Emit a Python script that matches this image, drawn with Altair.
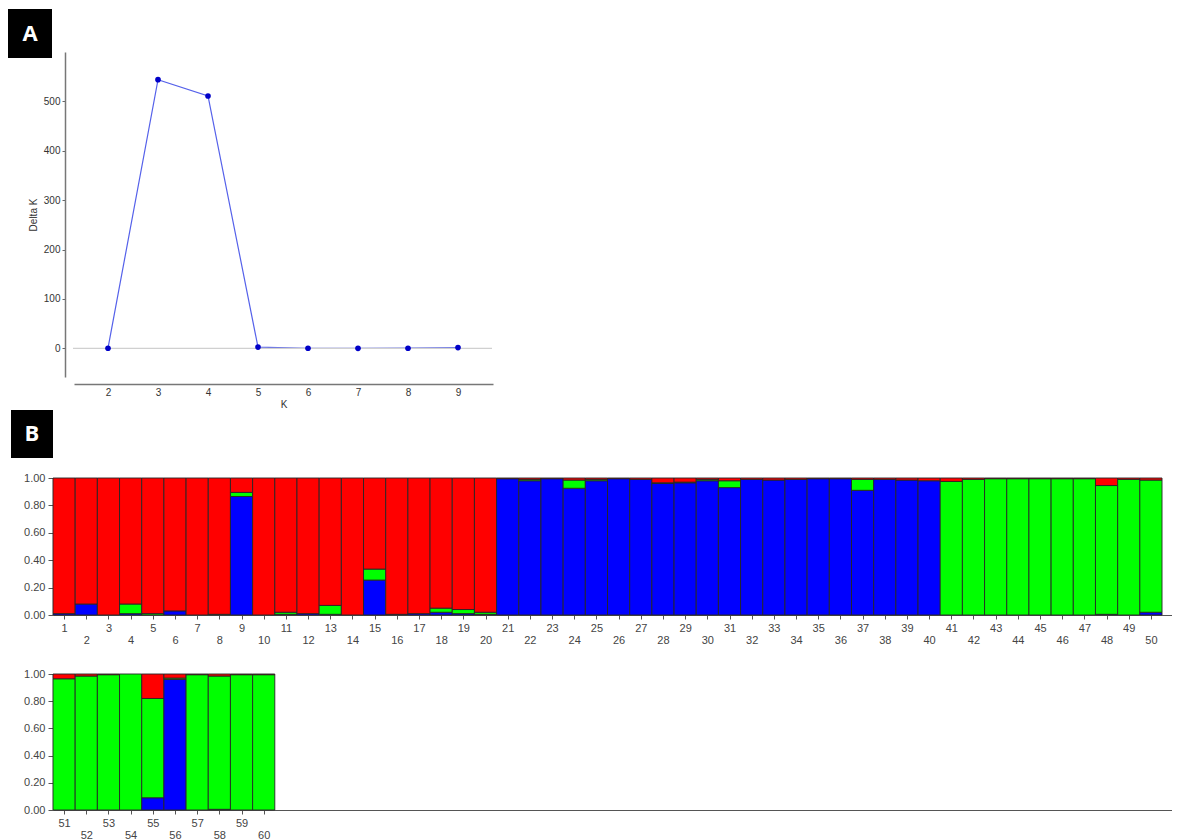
import altair as alt
import pandas as pd

# ---------------- Panel A data ----------------
k_values = [2, 3, 4, 5, 6, 7, 8, 9]
delta_k = [0.3, 544, 511, 2.5, 0.2, 0.1, 0.3, 1.5]

# ---------------- Panel B data ----------------
individuals = list(range(1, 61))
blue = [0.01, 0.08, 0.00, 0.01, 0.00, 0.03, 0.00, 0.00, 0.865, 0.00,
        0.005, 0.01, 0.005, 0.00, 0.255, 0.005, 0.01, 0.02, 0.01, 0.005,
        0.995, 0.98, 0.995, 0.925, 0.98, 0.995, 0.99, 0.96, 0.965, 0.98,
        0.93, 0.99, 0.985, 0.99, 0.995, 0.995, 0.91, 0.99, 0.985, 0.98,
        0.00, 0.00, 0.00, 0.00, 0.00, 0.00, 0.00, 0.005, 0.00, 0.02,
        0.00, 0.00, 0.00, 0.00, 0.09, 0.96, 0.00, 0.005, 0.00, 0.00]
green = [0.00, 0.00, 0.00, 0.07, 0.01, 0.00, 0.00, 0.005, 0.03, 0.00,
         0.015, 0.00, 0.065, 0.00, 0.08, 0.00, 0.00, 0.03, 0.03, 0.015,
         0.00, 0.01, 0.00, 0.06, 0.01, 0.00, 0.00, 0.005, 0.005, 0.01,
         0.05, 0.00, 0.00, 0.00, 0.00, 0.00, 0.08, 0.00, 0.00, 0.00,
         0.975, 0.99, 0.995, 0.995, 0.995, 0.995, 0.995, 0.94, 0.99, 0.965,
         0.965, 0.985, 0.995, 1.00, 0.73, 0.01, 0.995, 0.98, 0.995, 0.995]
red = [0.99, 0.92, 1.00, 0.92, 0.99, 0.97, 1.00, 0.995, 0.105, 1.00,
       0.98, 0.99, 0.93, 1.00, 0.665, 0.995, 0.99, 0.95, 0.96, 0.98,
       0.005, 0.01, 0.005, 0.015, 0.01, 0.005, 0.01, 0.035, 0.03, 0.01,
       0.02, 0.01, 0.015, 0.01, 0.005, 0.005, 0.01, 0.01, 0.015, 0.02,
       0.025, 0.01, 0.005, 0.005, 0.005, 0.005, 0.005, 0.055, 0.01, 0.015,
       0.035, 0.015, 0.005, 0.00, 0.18, 0.03, 0.005, 0.015, 0.005, 0.005]
clusters = ["blue", "green", "red"]
cluster_colors = ["#0000ff", "#00ff00", "#ff0000"]
y_ticks_b = [0, 0.2, 0.4, 0.6, 0.8, 1.0]
delta_ticks = [0, 100, 200, 300, 400, 500]

FONT = "Liberation Sans"

dfA = pd.DataFrame({"K": k_values, "DeltaK": delta_k})

rows = []
for i, b, g, r in zip(individuals, blue, green, red):
    for order, (c, v) in enumerate(zip(clusters, [b, g, r])):
        if v > 0:
            rows.append({"ind": i, "cluster": c, "q": v, "ord": order})
dfB = pd.DataFrame(rows)

one = alt.Data(values=[{"a": 1}])

# ---------------- Panel A ----------------
WA, HA = 440, 325
xA = alt.Scale(domain=[1.32, 9.7], range=[21, 440], nice=False, zero=False)
yA = alt.Scale(domain=[-58, 600], nice=False, zero=False)

x_axis_A = alt.Axis(values=k_values, title="K", offset=7, ticks=False,
                    labelPadding=3, labelFontSize=10, labelColor="#333",
                    labelFont=FONT, titleFont=FONT, titleFontSize=10,
                    titleFontWeight="normal", titleColor="#333",
                    titlePadding=2, domainColor="#777", domainWidth=1.5,
                    grid=False)
y_axis_A = alt.Axis(values=delta_ticks, title="Delta K", offset=-12,
                    tickSize=3, tickColor="#666", labelPadding=2,
                    labelFontSize=10, labelColor="#333", labelFont=FONT,
                    titleFont=FONT, titleFontSize=10, titleFontWeight="normal",
                    titleColor="#333", titlePadding=5, domainColor="#777",
                    domainWidth=1.5, grid=False)

line = alt.Chart(dfA).mark_line(color="#5561ea", strokeWidth=1.2).encode(
    x=alt.X("K:Q", scale=xA, axis=x_axis_A),
    y=alt.Y("DeltaK:Q", scale=yA, axis=y_axis_A),
)
zero_line = alt.Chart(alt.Data(values=[{"v": 0}])).mark_rule(
    color="#d0d0d0", strokeWidth=1.2
).encode(y=alt.Y("v:Q", scale=yA, axis=y_axis_A), x=alt.value(20), x2=alt.value(439))
points = alt.Chart(dfA).mark_circle(color="#0000c8", opacity=1, size=32).encode(
    x=alt.X("K:Q", scale=xA, axis=x_axis_A), y=alt.Y("DeltaK:Q", scale=yA, axis=y_axis_A)
)
boxA = alt.Chart(one).mark_rect(color="#000000").encode(
    x=alt.value(-45), x2=alt.value(-1), y=alt.value(-43), y2=alt.value(6)
)
textA = alt.Chart(one).mark_text(
    text="A", color="white", fontSize=22, fontWeight="bold", font="Open Sans",
    align="center", baseline="middle"
).encode(x=alt.value(-23), y=alt.value(-18))

panelA = alt.layer(line, zero_line, points, boxA, textA).properties(width=WA, height=HA)


# ---------------- Panel B ----------------
def bar_panel(lo, labels, height, yrange, letter=False):
    color = alt.Color("cluster:N", scale=alt.Scale(domain=clusters, range=cluster_colors),
                      legend=None)
    bars = alt.Chart(dfB).transform_filter(
        (alt.datum.ind >= lo) & (alt.datum.ind < lo + 50)
    ).transform_stack(
        stack="q", as_=["y0", "y1"], groupby=["ind"],
        sort=[alt.SortField("ord", order="ascending")]
    ).transform_calculate(
        x0="datum.ind - 0.5", x1="datum.ind + 0.5"
    ).mark_rect(stroke="#262626", strokeWidth=0.9).encode(
        x=alt.X("x0:Q", scale=alt.Scale(domain=[lo - 0.5, lo + 49.95], nice=False, zero=False),
                axis=alt.Axis(values=labels, title=None, tickSize=4, tickColor="#555",
                              labelExpr="datum.value % 2 == 0 ? ['', datum.label] : datum.label",
                              labelLineHeight=12, labelPadding=3, labelFontSize=11,
                              labelColor="#444", labelFont=FONT, domainColor="#555",
                              domainWidth=1.2, grid=False, labelFlush=False,
                              labelOverlap=False)),
        x2="x1:Q",
        y=alt.Y("y0:Q",
                scale=alt.Scale(domain=[0, 1], range=yrange, nice=False),
                axis=alt.Axis(values=y_ticks_b, format=".2f", title=None, tickSize=5,
                              tickColor="#555", labelPadding=3, labelFontSize=11,
                              labelColor="#444", labelFont=FONT, domainColor="#555",
                              domainWidth=1.2, grid=False)),
        y2="y1:Q",
        color=color,
    )
    layers = [bars]
    if letter:
        layers.append(alt.Chart(one).mark_rect(color="#000000").encode(
            x=alt.value(-42), x2=alt.value(0), y=alt.value(-26), y2=alt.value(22)))
        layers.append(alt.Chart(one).mark_text(
            text="B", color="white", fontSize=22, fontWeight="bold", font="Open Sans",
            align="center", baseline="middle").encode(x=alt.value(-21), y=alt.value(-2)))
    return alt.layer(*layers).properties(width=1119, height=height)


panelB1 = bar_panel(1, individuals[:50], 179, [179, 42], letter=True)
panelB2 = bar_panel(51, individuals[50:], 136, [136, 0])

chart = alt.vconcat(panelA, panelB1, panelB2, spacing=59).configure(
    padding={"left": 0, "top": 1, "right": 0, "bottom": 0}
).configure_view(stroke=None).properties(
    bounds="flush", background="white"
)

chart.save("out.html", embed_options={"renderer": "svg", "actions": False})
